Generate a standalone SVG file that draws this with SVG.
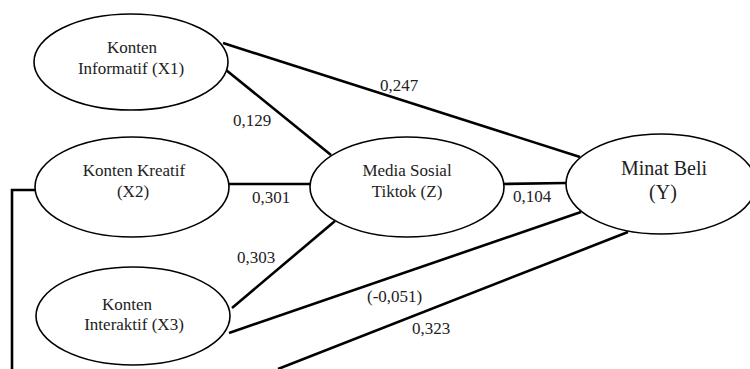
<svg xmlns="http://www.w3.org/2000/svg" width="750" height="369" viewBox="0 0 750 369">
<style>
.node ellipse{fill:#fff;stroke:#000;stroke-width:1.6}
.lbl{font-family:"Liberation Serif","Times New Roman",serif;font-size:17px;fill:#222;text-anchor:middle}
.num{font-family:"Liberation Serif","Times New Roman",serif;font-size:17px;fill:#222}
.edges line,.edges polyline{stroke:#000;stroke-width:2.6;fill:none}
</style>
<rect width="750" height="369" fill="#fff"/>
<g id="connectors" class="edges">
<line x1="223" y1="43" x2="580" y2="157"/>
<line x1="226" y1="70" x2="331" y2="155"/>
<line x1="229" y1="184" x2="311" y2="184"/>
<line x1="503" y1="184" x2="566" y2="183"/>
<line x1="232" y1="308" x2="335" y2="221"/>
<line x1="229" y1="333" x2="581" y2="212"/>
<polyline points="36,190 12,190 12,369"/>
<line x1="278" y1="369" x2="628" y2="232"/>
</g>
<g id="labels">
<text class="num" x="380" y="91">0,247</text>
<text class="num" x="233" y="126">0,129</text>
<text class="num" x="252" y="203">0,301</text>
<text class="num" x="513" y="202">0,104</text>
<text class="num" x="237" y="263">0,303</text>
<text class="num" x="367" y="302">(-0,051)</text>
<text class="num" x="412" y="334">0,323</text>
</g>
<g id="X1" class="node">
<ellipse cx="131" cy="62" rx="97" ry="48"/>
<text class="lbl" x="132" y="53">Konten</text>
<text class="lbl" x="131" y="74">Informatif (X1)</text>
</g>
<g id="X2" class="node">
<ellipse cx="132" cy="187" rx="97" ry="50"/>
<text class="lbl" x="134" y="176">Konten Kreatif</text>
<text class="lbl" x="133" y="197">(X2)</text>
</g>
<g id="X3" class="node">
<ellipse cx="133" cy="316" rx="97" ry="49"/>
<text class="lbl" x="127" y="310">Konten</text>
<text class="lbl" x="134" y="330">Interaktif (X3)</text>
</g>
<g id="Z" class="node">
<ellipse cx="407" cy="187" rx="97" ry="50"/>
<text class="lbl" x="407" y="176">Media Sosial</text>
<text class="lbl" x="407" y="197">Tiktok (Z)</text>
</g>
<g id="Y" class="node">
<ellipse cx="661" cy="184" rx="95" ry="50"/>
<text class="lbl" x="664" y="175" style="font-size:20px">Minat Beli</text>
<text class="lbl" x="663" y="199" style="font-size:20px">(Y)</text>
</g>
</svg>
